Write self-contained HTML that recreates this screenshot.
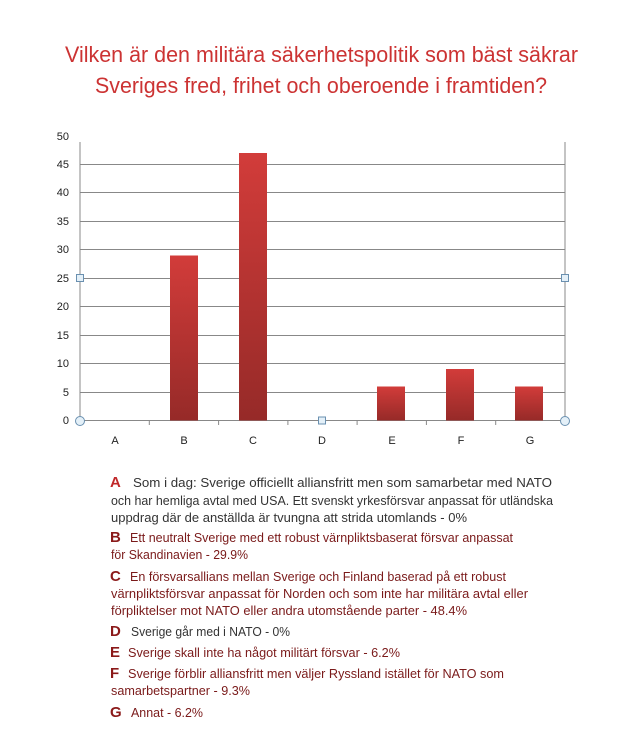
<!DOCTYPE html>
<html><head><meta charset="utf-8"><style>
html,body{margin:0;padding:0;background:#fff;width:630px;height:752px;overflow:hidden}
svg text{font-family:"Liberation Sans",sans-serif}
</style></head><body>
<svg width="630" height="752" viewBox="0 0 630 752" xmlns="http://www.w3.org/2000/svg">
<defs>
<linearGradient id="g" x1="0" y1="0" x2="0" y2="1">
<stop offset="0" stop-color="#d23c3a"/><stop offset="1" stop-color="#962a28"/>
</linearGradient>
</defs>
<g fill="#cc3333" font-size="22">
<text x="65" y="62" textLength="513" lengthAdjust="spacingAndGlyphs">Vilken är den militära säkerhetspolitik som bäst säkrar</text>
<text x="95" y="93" textLength="452" lengthAdjust="spacingAndGlyphs">Sveriges fred, frihet och oberoende i framtiden?</text>
</g>
<g stroke="#888" stroke-width="1">
<line x1="80" y1="164.5" x2="565" y2="164.5"/>
<line x1="80" y1="192.5" x2="565" y2="192.5"/>
<line x1="80" y1="221.5" x2="565" y2="221.5"/>
<line x1="80" y1="249.5" x2="565" y2="249.5"/>
<line x1="80" y1="278.5" x2="565" y2="278.5"/>
<line x1="80" y1="306.5" x2="565" y2="306.5"/>
<line x1="80" y1="335.5" x2="565" y2="335.5"/>
<line x1="80" y1="363.5" x2="565" y2="363.5"/>
<line x1="80" y1="392.5" x2="565" y2="392.5"/>
<line x1="80" y1="420.5" x2="565" y2="420.5"/>
<line x1="80" y1="142" x2="80" y2="420"/>
<line x1="565" y1="142" x2="565" y2="420"/>
<line x1="149.3" y1="420" x2="149.3" y2="425"/>
<line x1="218.6" y1="420" x2="218.6" y2="425"/>
<line x1="287.9" y1="420" x2="287.9" y2="425"/>
<line x1="357.1" y1="420" x2="357.1" y2="425"/>
<line x1="426.4" y1="420" x2="426.4" y2="425"/>
<line x1="495.7" y1="420" x2="495.7" y2="425"/>
</g>
<g fill="url(#g)">
<rect x="170" y="255.5" width="28" height="165"/>
<rect x="239" y="153" width="28" height="267.5"/>
<rect x="377" y="386.5" width="28" height="34"/>
<rect x="446" y="369" width="28" height="51.5"/>
<rect x="515" y="386.5" width="28" height="34"/>
</g>
<g fill="#222" font-size="11" text-anchor="end">
<text x="69" y="140">50</text><text x="69" y="168">45</text><text x="69" y="196">40</text>
<text x="69" y="225">35</text><text x="69" y="253">30</text><text x="69" y="282">25</text>
<text x="69" y="310">20</text><text x="69" y="339">15</text><text x="69" y="367">10</text>
<text x="69" y="396">5</text><text x="69" y="424">0</text>
</g>
<g fill="#222" font-size="11" text-anchor="middle">
<text x="115" y="444">A</text><text x="184" y="444">B</text><text x="253" y="444">C</text>
<text x="322" y="444">D</text><text x="392" y="444">E</text><text x="461" y="444">F</text><text x="530" y="444">G</text>
</g>
<g fill="#e4f0f8" stroke="#6a90b0" stroke-width="1">
<rect x="76.5" y="274.5" width="7" height="7"/>
<rect x="561.5" y="274.5" width="7" height="7"/>
<rect x="318.5" y="417" width="7" height="7"/>
<circle cx="80" cy="421" r="4.5"/><circle cx="565" cy="421" r="4.5"/>
</g>
<g font-size="13">
<text x="110" y="487" fill="#c0282a" font-weight="bold" font-size="15">A</text>
<text x="133" y="487" fill="#333" textLength="419" lengthAdjust="spacingAndGlyphs">Som i dag: Sverige officiellt alliansfritt men som samarbetar med NATO</text>
<text x="111" y="505" fill="#333" textLength="442" lengthAdjust="spacingAndGlyphs">och har hemliga avtal med USA. Ett svenskt yrkesförsvar anpassat för utländska</text>
<text x="111" y="522" fill="#333" textLength="356" lengthAdjust="spacingAndGlyphs">uppdrag där de anställda är tvungna att strida utomlands   - 0%</text>
<text x="110" y="542" fill="#8b1a1a" font-weight="bold" font-size="15">B</text>
<text x="130" y="542" fill="#7a1a1a" textLength="383" lengthAdjust="spacingAndGlyphs">Ett neutralt Sverige med ett robust värnpliktsbaserat försvar anpassat</text>
<text x="111" y="559" fill="#7a1a1a" textLength="137" lengthAdjust="spacingAndGlyphs">för Skandinavien - 29.9%</text>
<text x="110" y="581" fill="#8b1a1a" font-weight="bold" font-size="15">C</text>
<text x="130" y="581" fill="#7a1a1a" textLength="376" lengthAdjust="spacingAndGlyphs">En försvarsallians mellan Sverige och Finland baserad på ett robust</text>
<text x="111" y="598" fill="#7a1a1a" textLength="417" lengthAdjust="spacingAndGlyphs">värnpliktsförsvar anpassat för Norden och som inte har militära avtal eller</text>
<text x="111" y="615" fill="#7a1a1a" textLength="356" lengthAdjust="spacingAndGlyphs">förpliktelser mot NATO eller andra utomstående parter - 48.4%</text>
<text x="110" y="636" fill="#8b1a1a" font-weight="bold" font-size="15">D</text>
<text x="131" y="636" fill="#333" textLength="159" lengthAdjust="spacingAndGlyphs">Sverige går med i NATO - 0%</text>
<text x="110" y="657" fill="#8b1a1a" font-weight="bold" font-size="15">E</text>
<text x="128" y="657" fill="#7a1a1a" textLength="272" lengthAdjust="spacingAndGlyphs">Sverige skall inte ha något militärt försvar - 6.2%</text>
<text x="110" y="678" fill="#8b1a1a" font-weight="bold" font-size="15">F</text>
<text x="128" y="678" fill="#7a1a1a" textLength="376" lengthAdjust="spacingAndGlyphs">Sverige förblir alliansfritt men väljer Ryssland istället för NATO som</text>
<text x="111" y="695" fill="#7a1a1a" textLength="139" lengthAdjust="spacingAndGlyphs">samarbetspartner - 9.3%</text>
<text x="110" y="717" fill="#8b1a1a" font-weight="bold" font-size="15">G</text>
<text x="131" y="717" fill="#7a1a1a" textLength="72" lengthAdjust="spacingAndGlyphs">Annat - 6.2%</text>
</g>
</svg>
</body></html>
